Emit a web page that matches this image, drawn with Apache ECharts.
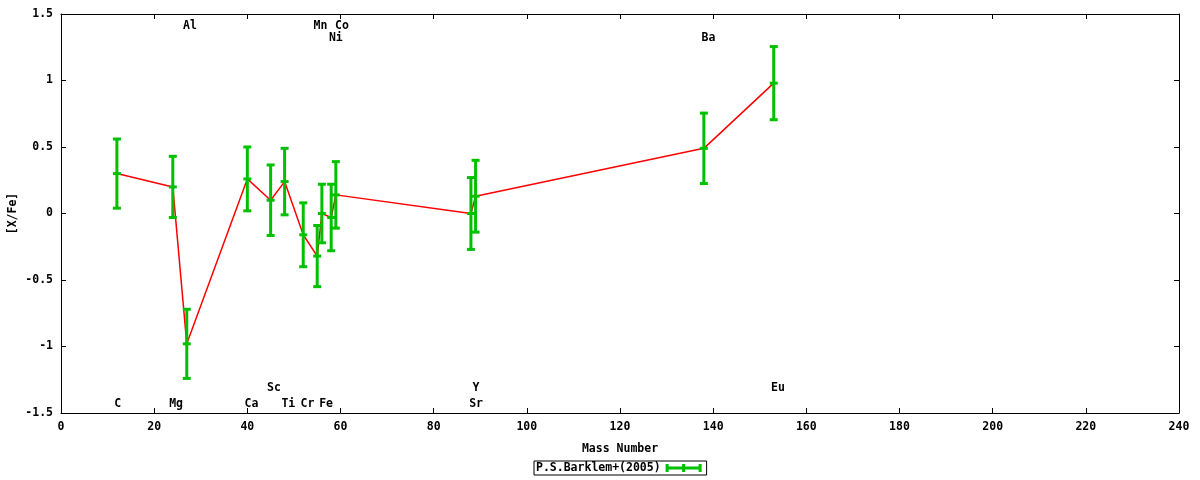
<!DOCTYPE html>
<html>
<head>
<meta charset="utf-8">
<script src="https://cdn.jsdelivr.net/npm/echarts@6/dist/echarts.min.js"></script>
<style>html,body{margin:0;padding:0;background:#fff}#c{width:1200px;height:480px}</style>
</head>
<body>
<div id="c"></div>
<script>
const elements   = ['C','Mg','Al','Ca','Sc','Ti','Cr','Mn','Fe','Ni','Co','Sr','Y','Ba','Eu'];
const massNumbers = [12, 24, 27, 40, 45, 48, 52, 55, 56, 58, 59, 88, 89, 138, 153];
const xFeValues  = [0.30, 0.20, -0.98, 0.26, 0.10, 0.24, -0.16, -0.32, 0.00, -0.03, 0.14, 0.00, 0.13, 0.49, 0.98];
const xFeErrors  = [0.26, 0.23, 0.26, 0.24, 0.265, 0.25, 0.24, 0.23, 0.22, 0.25, 0.25, 0.27, 0.27, 0.265, 0.275];
const labelX     = [12.2, 24.7, 27.7, 40.9, 45.7, 48.8, 52.9, 55.7, 56.9, 59.0, 60.3, 89.1, 89.1, 139.0, 153.9];
const labelY     = [-1.43, -1.43, 1.41, -1.43, -1.31, -1.43, -1.43, 1.41, -1.43, 1.32, 1.41, -1.43, -1.31, 1.32, -1.31];
const xTicks = { min: 0, max: 240, interval: 20 };
const yTicks = { min: -1.5, max: 1.5, interval: 0.5 };
const seriesName = 'P.S.Barklem+(2005)';

const FONT = 'DejaVu Sans Mono';
const GREEN = '#00c000';
const txt = { fontFamily: FONT, fontWeight: 'bold', fontSize: 11.5, color: '#000' };

const lineData = massNumbers.map((m, i) => [m, xFeValues[i]]);
const errData = massNumbers.map((m, i) => [m, xFeValues[i], xFeValues[i] - xFeErrors[i], xFeValues[i] + xFeErrors[i]]);
const labelData = elements.map((e, i) => [labelX[i], labelY[i], e]);

const axisCommon = {
  axisLine: { show: true, onZero: false, lineStyle: { color: '#000', width: 1 } },
  axisTick: { show: true, inside: true, length: 5, lineStyle: { color: '#000' } },
  splitLine: { show: false }
};

const chart = echarts.init(document.getElementById('c'), null, { renderer: 'canvas' });
chart.setOption({
  animation: false,
  backgroundColor: '#fff',
  grid: { left: 61, right: 21, top: 14, bottom: 67, containLabel: false, outerBoundsMode: 'none' },
  legend: {
    top: 461, left: 534,
    data: [{ name: seriesName, icon: 'path://M0,2.5h36v3h-36z M0,0h3v8h-3z M33,0h3v8h-3z M16.5,0h3v8h-3z' }],
    itemWidth: 36, itemHeight: 8, align: 'right',
    borderColor: '#000', borderWidth: 1, padding: [1, 5, 1, 2], borderRadius: 0,
    textStyle: txt, itemGap: 5
  },
  xAxis: [
    Object.assign({ type: 'value', position: 'bottom', min: xTicks.min, max: xTicks.max, interval: xTicks.interval,
      name: 'Mass Number', nameLocation: 'middle', nameGap: 30, nameMoveOverlap: false, nameTextStyle: txt,
      axisLabel: Object.assign({ margin: 8 }, txt) }, axisCommon),
    Object.assign({ type: 'value', position: 'top', min: xTicks.min, max: xTicks.max, interval: xTicks.interval,
      axisLabel: { show: false } }, axisCommon)
  ],
  yAxis: [
    Object.assign({ type: 'value', position: 'left', min: yTicks.min, max: yTicks.max, interval: yTicks.interval,
      name: '[X/Fe]', nameLocation: 'middle', nameGap: 42, nameMoveOverlap: false, nameRotate: 90, nameTextStyle: txt,
      axisLabel: Object.assign({ margin: 8 }, txt) }, axisCommon),
    Object.assign({ type: 'value', position: 'right', min: yTicks.min, max: yTicks.max, interval: yTicks.interval,
      axisLabel: { show: false } }, axisCommon)
  ],
  series: [
    {
      name: 'line', type: 'line', data: lineData, symbol: 'none', z: 2,
      lineStyle: { color: '#ff0000', width: 1.5 }, itemStyle: { color: '#ff0000' }
    },
    {
      name: seriesName, type: 'custom', data: errData, z: 3,
      itemStyle: { color: GREEN },
      encode: { x: 0, y: [1, 2, 3] },
      renderItem: function (params, api) {
        const x = api.value(0);
        const c = api.coord([x, api.value(1)]);
        const lo = api.coord([x, api.value(2)]);
        const hi = api.coord([x, api.value(3)]);
        const hw = 4;
        const st = { stroke: GREEN, lineWidth: 3 };
        return {
          type: 'group',
          children: [
            { type: 'line', shape: { x1: hi[0], y1: hi[1], x2: lo[0], y2: lo[1] }, style: st },
            { type: 'line', shape: { x1: hi[0] - hw, y1: hi[1], x2: hi[0] + hw, y2: hi[1] }, style: st },
            { type: 'line', shape: { x1: lo[0] - hw, y1: lo[1], x2: lo[0] + hw, y2: lo[1] }, style: st },
            { type: 'line', shape: { x1: c[0] - hw, y1: c[1], x2: c[0] + hw, y2: c[1] }, style: st }
          ]
        };
      }
    },
    {
      name: 'labels', type: 'custom', data: labelData, z: 4, silent: true,
      encode: { x: 0, y: 1 },
      renderItem: function (params, api) {
        const p = api.coord([api.value(0), api.value(1)]);
        return {
          type: 'text', x: p[0], y: p[1],
          style: { text: labelData[params.dataIndex][2], align: 'center', verticalAlign: 'middle',
            fill: '#000', font: 'bold 11.5px "DejaVu Sans Mono"' }
        };
      }
    }
  ]
});
</script>
</body>
</html>
